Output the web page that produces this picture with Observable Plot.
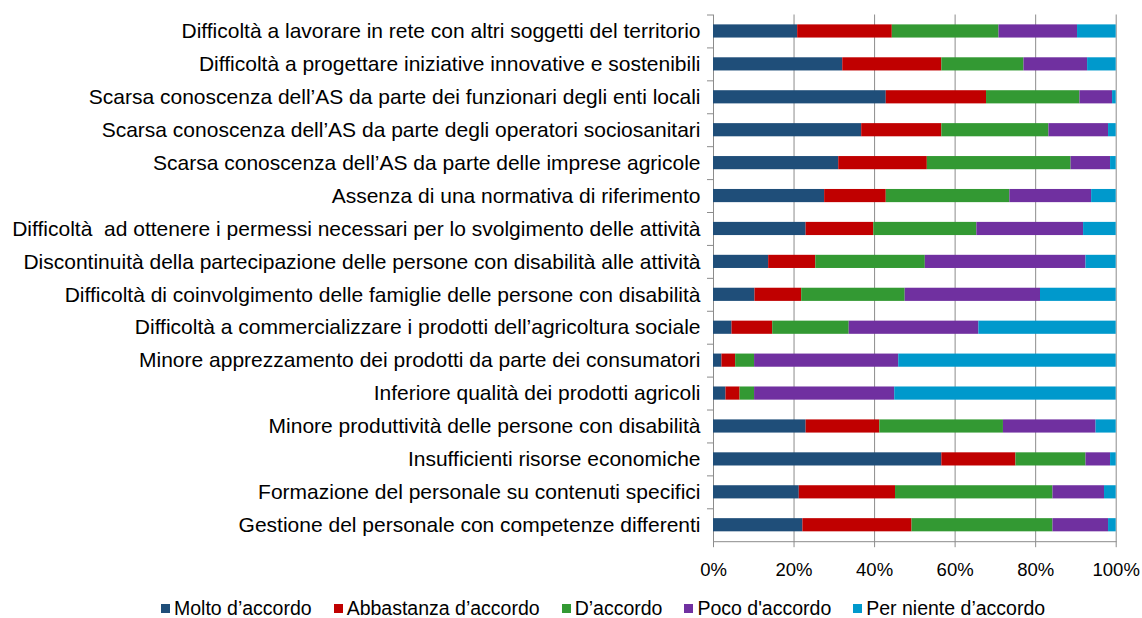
<!DOCTYPE html>
<html>
<head>
<meta charset="utf-8">
<script src="https://cdn.jsdelivr.net/npm/d3@7"></script>
<script src="https://cdn.jsdelivr.net/npm/@observablehq/plot@0.6"></script>
<style>
  html, body { margin: 0; padding: 0; background: #fff; }
  body { width: 1142px; height: 618px; position: relative; overflow: hidden; font-family: Arial, "Liberation Sans", sans-serif; }
  #chart svg text { white-space: pre; }
  #legend { position: absolute; left: 161px; top: 597px; display: flex; align-items: center; font-size: 19.5px; color: #000; line-height: 22px; white-space: nowrap; }
  #legend .item { display: flex; align-items: center; margin-right: 22px; }
  #legend .sw { width: 9px; height: 9px; margin-right: 4px; }
</style>
</head>
<body>
<div id="chart"></div>
<div id="legend"></div>
<script>
const categories = [
  "Difficoltà a lavorare in rete con altri soggetti del territorio",
  "Difficoltà a progettare iniziative innovative e sostenibili",
  "Scarsa conoscenza dell’AS da parte dei funzionari degli enti locali",
  "Scarsa conoscenza dell’AS da parte degli operatori sociosanitari",
  "Scarsa conoscenza dell’AS da parte delle imprese agricole",
  "Assenza di una normativa di riferimento",
  "Difficoltà  ad ottenere i permessi necessari per lo svolgimento delle attività",
  "Discontinuità della partecipazione delle persone con disabilità alle attività",
  "Difficoltà di coinvolgimento delle famiglie delle persone con disabilità",
  "Difficoltà a commercializzare i prodotti dell’agricoltura sociale",
  "Minore apprezzamento dei prodotti da parte dei consumatori",
  "Inferiore qualità dei prodotti agricoli",
  "Minore produttività delle persone con disabilità",
  "Insufficienti risorse economiche",
  "Formazione del personale su contenuti specifici",
  "Gestione del personale con competenze differenti"
];
const seriesNames = ["Molto d’accordo", "Abbastanza d’accordo", "D’accordo", "Poco d'accordo", "Per niente d’accordo"];
const seriesColors = ["#1F4E79", "#C00000", "#339933", "#7030A0", "#0099CC"];

const molto      = [20.9, 32.1, 42.9, 36.8, 31.1, 27.6, 23.0, 13.7, 10.3, 4.6, 2.1, 3.1, 23.0, 56.7, 21.3, 22.2];
const abbastanza = [23.5, 24.6, 24.9, 19.9, 22.0, 15.3, 16.8, 11.7, 11.6, 10.1, 3.4, 3.5, 18.3, 18.4, 23.9, 27.1];
const daccordo   = [26.5, 20.4, 23.2, 26.6, 35.7, 30.7, 25.6, 27.2, 25.7, 19.0, 4.7, 3.6, 30.7, 17.4, 39.1, 35.0];
const poco       = [19.5, 15.8, 8.1, 14.8, 9.8, 20.3, 26.5, 39.9, 33.6, 32.2, 35.8, 34.8, 23.0, 6.1, 12.8, 13.8];
const perNiente  = [9.6, 7.1, 0.9, 1.9, 1.4, 6.1, 8.1, 7.5, 18.8, 34.1, 54.0, 55.0, 5.0, 1.4, 2.9, 1.9];
const xTicks = [0, 0.2, 0.4, 0.6, 0.8, 1];

const seriesValues = [molto, abbastanza, daccordo, poco, perNiente];
const data = [];
categories.forEach((c, i) => {
  seriesNames.forEach((s, j) => {
    data.push({category: c, serie: s, value: seriesValues[j][i]});
  });
});

const W = 1142, H = 590;
const mTop = 14.5, mBottom = H - 541.2, mLeft = 713, mRight = 1142 - 1115.7;
const step = (H - mTop - mBottom) / categories.length;

const chart = Plot.plot({
  width: W,
  height: H,
  marginTop: mTop,
  marginBottom: mBottom,
  marginLeft: mLeft,
  marginRight: mRight,
  style: {fontFamily: 'Arial, "Liberation Sans", sans-serif', fontSize: "18px", color: "#000", background: "#fff"},
  x: {domain: [0, 1], ticks: xTicks, tickFormat: d3.format(".0%"), label: null},
  y: {domain: categories, paddingInner: 0.6, paddingOuter: 0.3, round: false, label: null},
  color: {domain: seriesNames, range: seriesColors},
  marks: [
    Plot.gridX(xTicks, {stroke: "#8c8c8c", strokeOpacity: 1, strokeWidth: 1}),
    Plot.barX(data, Plot.stackX({x: "value", y: "category", fill: "serie", offset: "normalize", order: seriesNames})),
    Plot.frame({anchor: "bottom", stroke: "#8c8c8c", strokeWidth: 1}),
    Plot.axisX(xTicks, {tickSize: 6, tickPadding: 15, stroke: "#8c8c8c", fill: "#000", fontSize: 18.5, tickFormat: d3.format(".0%"), label: null}),
    Plot.axisY({tickSize: 0, tickPadding: 13, fill: "#000", fontSize: 21, label: null}),
    Plot.axisY({tickSize: 6, tickFormat: () => "", dy: -step / 2, stroke: "#8c8c8c", label: null})
  ]
});
document.getElementById("chart").appendChild(chart);

const legend = document.getElementById("legend");
seriesNames.forEach((s, j) => {
  const item = document.createElement("div");
  item.className = "item";
  const sw = document.createElement("span");
  sw.className = "sw";
  sw.style.background = seriesColors[j];
  const t = document.createElement("span");
  t.textContent = s;
  item.appendChild(sw);
  item.appendChild(t);
  legend.appendChild(item);
});
</script>
</body>
</html>
